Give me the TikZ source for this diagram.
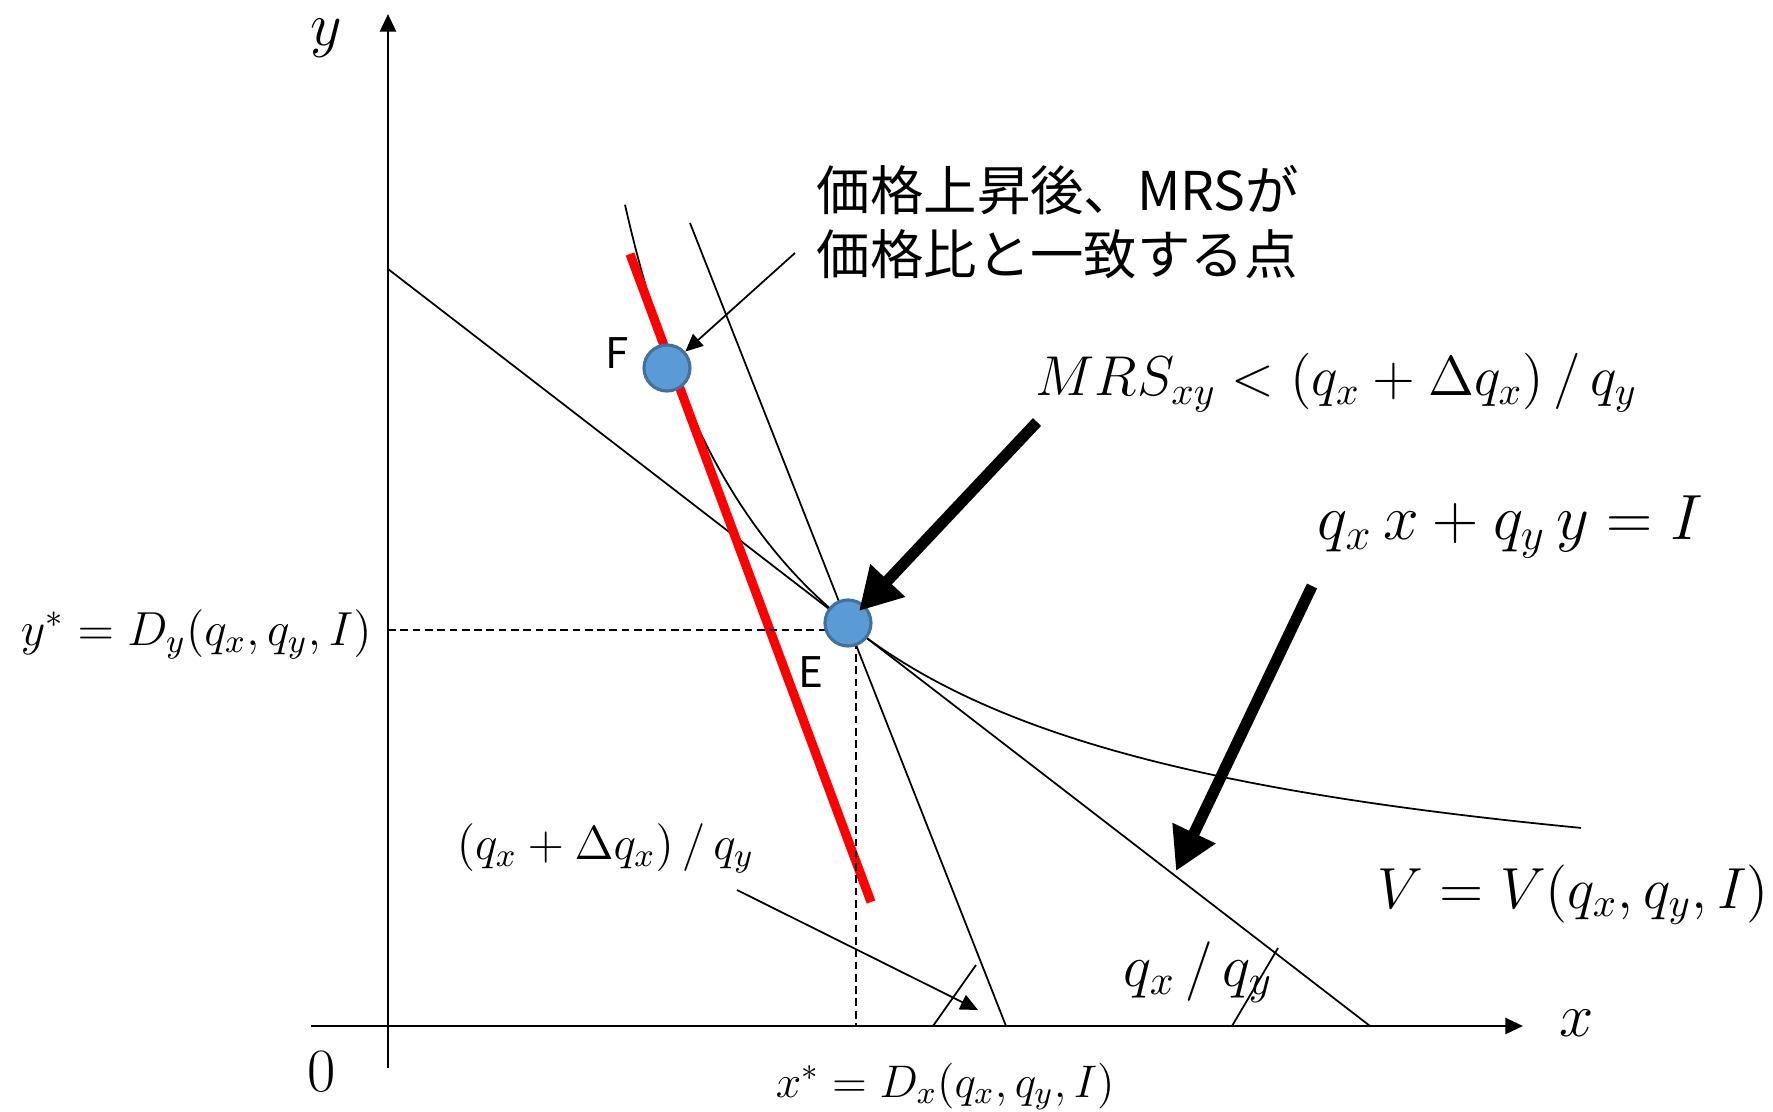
\documentclass[tikz,border=0pt]{standalone}
\usepackage{fix-cm}
\usepackage{fontspec}
\newfontfamily\jpfont{Noto Sans CJK JP}
\usetikzlibrary{arrows.meta}
\definecolor{dotblue}{HTML}{5B9BD5}
\definecolor{dotedge}{HTML}{41719C}
\begin{document}
\begin{tikzpicture}[line cap=butt,line join=miter,>={Triangle[length=5pt,width=4.5pt]},line width=0.5pt]
	\tikzset{declare function={xmin=-0.77;xmax=11.35;ymin=-0.42;ymax=10.12;},
		dot/.style={circle,fill=dotblue,draw=dotedge,line width=0.9pt,minimum size=0.46cm,inner sep=0pt},
		bigarrow/.style={line width=3.2pt,-{Triangle[length=0.42cm,width=0.45cm]}},
		lab/.style={anchor=base west,inner sep=0pt},
		dashline/.style={dash pattern=on 2.2pt off 1.3pt}}
	\useasboundingbox (-3.88,-0.85) rectangle (13.85,10.26);
	\draw[->,line width=0.8pt] (xmin,0)--(xmax,0);
	\draw[->,line width=0.8pt] (0,ymin)--(0,ymax);
	\node (xl) at (11.89,0.03) {\fontsize{17.5}{20}\selectfont$x$};
	\node (yl) at (-0.62,9.88) {\fontsize{17.5}{20}\selectfont$y$};
	\node (ol) at (-0.66,-0.46) {\fontsize{17.5}{20}\selectfont$0$};
	\def\u(#1){0.895+12.19/((#1)-0.704)} % indifference curve
	\coordinate (T) at (4.68,3.96);
	\coordinate (Ty) at (0,3.96);
	\coordinate (Tx) at (4.68,0);
	\draw (0,7.57)--(9.82,0);
	\draw (3.02,8.03)--(6.18,0);
	\draw plot[domain=2.37:11.93,samples=200,smooth] (\x,{\u(\x)});
	\draw[red,line width=2.6pt] (2.42,7.72)--(4.83,1.24);
	\draw[dashline] (Ty)--(T)--(Tx);
	\foreach\a/\b/\c in {5.45/5.88/0.61,8.44/8.90/0.78}{\draw (\a,0)--(\b,\c);}
	\node[dot] (F) at (2.79,6.58) {};
	\node[dot] (E) at (4.60,4.03) {};
	\node (Fl) at (2.29,6.73) {\jpfont\fontsize{12}{14}\selectfont F};
	\node (El) at (4.23,3.54) {\jpfont\fontsize{12}{14}\selectfont E};
	\node (note) [anchor=west,align=left,inner sep=0pt,font=\jpfont\fontsize{15.2}{18.2}\selectfont] at (4.28,8.04) {価格上昇後、MRSが\\価格比と一致する点};
	\coordinate (n1) at (4.07,7.73);
	\draw[->] (n1)--(F);
	\node (mrs) [lab] at (6.47,6.30) {\fontsize{16}{18}\selectfont$MRS_{xy} < (q_x + \Delta q_x)\,/\,q_y$};
	\coordinate (m1) at (6.49,6.04);
	\coordinate (m2) at (4.71,4.15);
	\draw[bigarrow] (m1)--(m2);
	\node (bud) [lab] at (9.29,4.86) {\fontsize{18.2}{20}\selectfont$q_x\, x + q_y\, y = I$};
	\coordinate (b1) at (9.24,4.40);
	\coordinate (b2) at (7.88,1.55);
	\draw[bigarrow] (b1)--(b2);
	\node (vv) [lab] at (9.89,1.18) {\fontsize{16.5}{19}\selectfont$V = V(q_x, q_y, I)$};
	\node (ratio) [lab] at (7.35,0.40) {\fontsize{17}{18}\selectfont$q_x\,/\,q_y$};
	\node (newratio) [lab] at (0.68,1.67) {\fontsize{13.6}{15}\selectfont$(q_x + \Delta q_x)\,/\,q_y$};
	\coordinate (r1) at (3.49,1.36);
	\coordinate (r2) at (5.90,0.16);
	\draw[->] (r1)--(r2);
	\node (ys) [lab] at (-3.68,3.81) {\fontsize{13.6}{15}\selectfont$y^* = D_y(q_x, q_y, I)$};
	\node (xs) [lab] at (3.87,-0.71) {\fontsize{13}{15}\selectfont$x^* = D_x(q_x, q_y, I)$};
\end{tikzpicture}
\end{document}
